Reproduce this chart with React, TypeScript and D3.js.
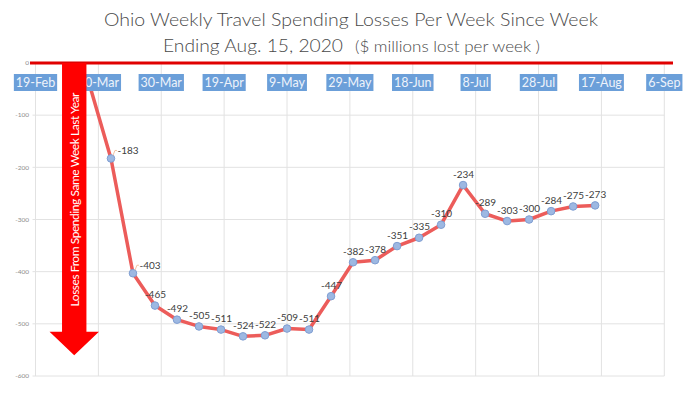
import * as d3 from "d3";
import { useEffect, useRef } from "react";

const W = 700;
const H = 394;

// week-ending dates (2020) and loss vs same week last year, $ millions
const WEEKS = [
  "2020-03-07", "2020-03-14", "2020-03-21", "2020-03-28", "2020-04-04", "2020-04-11",
  "2020-04-18", "2020-04-25", "2020-05-02", "2020-05-09", "2020-05-16", "2020-05-23",
  "2020-05-30", "2020-06-06", "2020-06-13", "2020-06-20", "2020-06-27", "2020-07-04",
  "2020-07-11", "2020-07-18", "2020-07-25", "2020-08-01", "2020-08-08", "2020-08-15",
];
const LOSSES = [
  -38, -183, -403, -465, -492, -505, -511, -524, -522, -509, -511, -447,
  -382, -378, -351, -335, -310, -234, -289, -303, -300, -284, -275, -273,
];
const X_TICKS = [
  "2020-02-19", "2020-03-10", "2020-03-30", "2020-04-19", "2020-05-09", "2020-05-29",
  "2020-06-18", "2020-07-08", "2020-07-28", "2020-08-17", "2020-09-06",
];
const X_TICK_LABELS = [
  "19-Feb", "10-Mar", "30-Mar", "19-Apr", "9-May", "29-May",
  "18-Jun", "8-Jul", "28-Jul", "17-Aug", "6-Sep",
];
const Y_TICKS = [0, -100, -200, -300, -400, -500, -600];

const TITLE_1 = "Ohio Weekly Travel Spending Losses Per Week Since Week";
const TITLE_2 = "Ending Aug. 15, 2020";
const TITLE_2_NOTE = "($ millions lost per week )";
const ARROW_TEXT = "Losses From Spending Same Week Last Year";

const FONT = "Lato, 'Open Sans', sans-serif";

const day = (s: string) => new Date(s + "T00:00:00Z");

export default function App() {
  const ref = useRef<SVGSVGElement>(null);

  useEffect(() => {
    const svg = d3.select(ref.current!);
    svg.selectAll("*").remove();

    const x = d3
      .scaleUtc()
      .domain([day(X_TICKS[0]), day(X_TICKS[X_TICKS.length - 1])])
      .range([35.5, 664.3]);
    const y = d3.scaleLinear().domain([-600, 0]).range([376, 63]);

    const data = WEEKS.map((w, i) => ({ d: day(w), v: LOSSES[i] }));

    svg.append("rect").attr("width", W).attr("height", H).attr("fill", "#fff");

    // title
    const title = (t: string, x0: number, y0: number, len: number, size: number) =>
      svg
        .append("text")
        .attr("x", x0)
        .attr("y", y0)
        .attr("textLength", len)
        .attr("lengthAdjust", "spacingAndGlyphs")
        .attr("font-family", FONT)
        .attr("font-weight", 300)
        .attr("font-size", size)
        .attr("fill", "#4a4a4a")
        .text(t);
    title(TITLE_1, 104, 26, 494, 18.5);
    title(TITLE_2, 163, 52, 180, 18.5);
    title(TITLE_2_NOTE, 355, 52, 185, 15);

    // gridlines
    const grid = svg.append("g").attr("stroke", "#e2e2e2").attr("stroke-width", 1);
    Y_TICKS.forEach((t) => {
      grid
        .append("line")
        .attr("x1", x.range()[0] - 3)
        .attr("x2", x.range()[1])
        .attr("y1", y(t))
        .attr("y2", y(t));
    });
    X_TICKS.forEach((t) => {
      grid
        .append("line")
        .attr("x1", x(day(t)))
        .attr("x2", x(day(t)))
        .attr("y1", y(0))
        .attr("y2", y(-600));
    });

    // y tick labels
    svg
      .append("g")
      .selectAll("text")
      .data(Y_TICKS)
      .join("text")
      .attr("x", 29)
      .attr("y", (t) => y(t))
      .attr("dy", "0.35em")
      .attr("text-anchor", "end")
      .attr("font-family", FONT)
      .attr("font-size", 6.5)
      .attr("fill", "#8c8c8c")
      .text((t) => String(t));

    // series
    const line = d3
      .line<{ d: Date; v: number }>()
      .x((p) => x(p.d))
      .y((p) => y(p.v));
    svg
      .append("path")
      .attr("d", line(data) ?? "")
      .attr("fill", "none")
      .attr("stroke", "#ec5c5a")
      .attr("stroke-width", 3.5)
      .attr("stroke-linejoin", "round");
    svg
      .append("g")
      .selectAll("circle")
      .data(data)
      .join("circle")
      .attr("cx", (p) => x(p.d))
      .attr("cy", (p) => y(p.v))
      .attr("r", 3.8)
      .attr("fill", "#9db8e2")
      .attr("stroke", "#7f9ed2")
      .attr("stroke-width", 1);

    // data labels: the first point's label is hidden under the axis labels in
    // the original; the next two sit to the right with a small leader
    const labels = svg.append("g");
    data.forEach((p, i) => {
      if (i === 0) return;
      const px = x(p.d);
      const py = y(p.v);
      if (i < 3) {
        labels
          .append("path")
          .attr("d", `M${px + 2},${py - 3}L${px + 4},${py - 8}L${px + 6},${py - 8}`)
          .attr("fill", "none")
          .attr("stroke", "#f2b48a")
          .attr("stroke-width", 0.8);
        labels
          .append("text")
          .attr("x", px + 6.5)
          .attr("y", py - 8)
          .attr("dy", "0.35em")
          .attr("font-family", FONT)
          .attr("font-size", 10)
          .attr("fill", "#404040")
          .text(String(p.v));
      } else {
        labels
          .append("text")
          .attr("x", px + 0.5)
          .attr("y", py - 11)
          .attr("dy", "0.35em")
          .attr("text-anchor", "middle")
          .attr("font-family", FONT)
          .attr("font-size", 10)
          .attr("fill", "#404040")
          .text(String(p.v));
      }
    });

    // red zero line
    svg
      .append("line")
      .attr("x1", 30)
      .attr("x2", 673)
      .attr("y1", y(0))
      .attr("y2", y(0))
      .attr("stroke", "#e00000")
      .attr("stroke-width", 3);

    // highlighted x tick labels
    const xl = svg.append("g");
    X_TICKS.forEach((t, i) => {
      const g = xl.append("g");
      const rect = g.append("rect").attr("fill", "#6b9fd9");
      const txt = g
        .append("text")
        .attr("x", x(day(t)))
        .attr("y", 82.5)
        .attr("dy", "0.35em")
        .attr("text-anchor", "middle")
        .attr("font-family", FONT)
        .attr("font-size", 12.5)
        .attr("fill", "#eef3fb")
        .text(X_TICK_LABELS[i]);
      const w = (txt.node() as SVGTextElement).getComputedTextLength();
      rect
        .attr("x", x(day(t)) - w / 2 - 2)
        .attr("y", 74)
        .attr("width", w + 4)
        .attr("height", 17);
    });

    // big red arrow annotation
    const cx = x(day("2020-03-02")) + 1;
    const top = y(0);
    const base = y(-515);
    const tip = y(-560);
    svg
      .append("path")
      .attr(
        "d",
        `M${cx - 12.2},${top}L${cx + 12.2},${top}L${cx + 12.2},${base}L${cx + 24.7},${base}` +
          `L${cx},${tip}L${cx - 24.7},${base}L${cx - 12.2},${base}Z`,
      )
      .attr("fill", "#ff0000");
    svg
      .append("text")
      .attr("transform", `translate(${cx},${(92 + 307) / 2}) rotate(-90)`)
      .attr("text-anchor", "middle")
      .attr("dy", "0.36em")
      .attr("textLength", 214)
      .attr("lengthAdjust", "spacing")
      .attr("font-family", FONT)
      .attr("font-size", 12)
      .attr("fill", "#ffffff")
      .text(ARROW_TEXT);
  }, []);

  return (
    <svg
      ref={ref}
      width={W}
      height={H}
      viewBox={`0 0 ${W} ${H}`}
      style={{ position: "absolute", left: 0, top: 0, display: "block" }}
    />
  );
}
